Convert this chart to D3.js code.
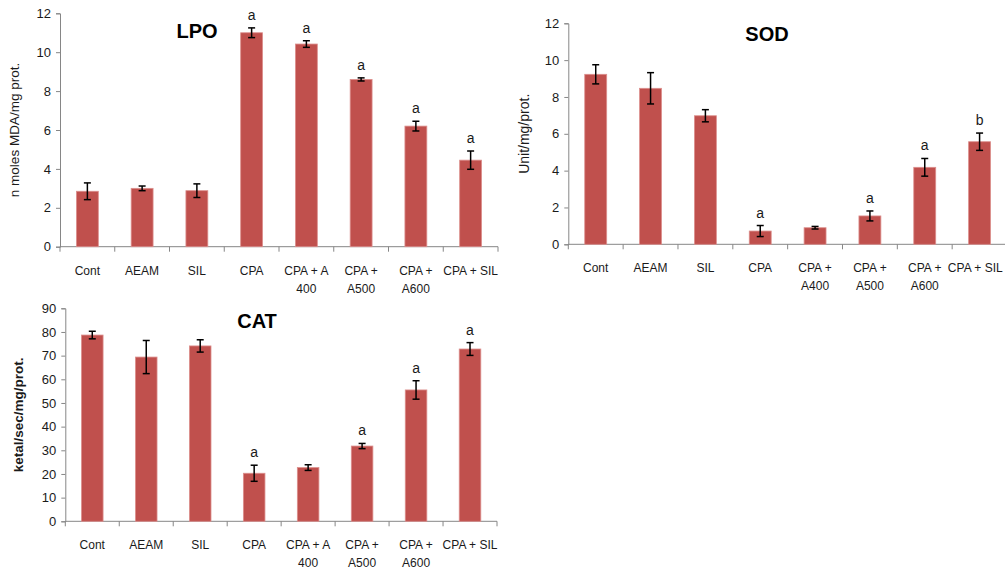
<!DOCTYPE html>
<html>
<head>
<meta charset="utf-8">
<script src="https://cdn.jsdelivr.net/npm/d3@7"></script>
<style>
  body { margin: 0; background: #fff; }
  svg { display: block; font-family: "Liberation Sans", Arial, sans-serif; }
</style>
</head>
<body>
<svg id="chart" width="1005" height="569"></svg>
<script>
// group names (line breaks as in the figure)
const lpoGroups = [['Cont'], ['AEAM'], ['SIL'], ['CPA'], ['CPA + A', '400'], ['CPA +', 'A500'], ['CPA +', 'A600'], ['CPA + SIL']];
const sodGroups = [['Cont'], ['AEAM'], ['SIL'], ['CPA'], ['CPA +', 'A400'], ['CPA +', 'A500'], ['CPA +', 'A600'], ['CPA + SIL']];
const catGroups = [['Cont'], ['AEAM'], ['SIL'], ['CPA'], ['CPA + A', '400'], ['CPA +', 'A500'], ['CPA +', 'A600'], ['CPA + SIL']];

const lpoValues = [2.85, 3.0, 2.88, 11.0, 10.42, 8.6, 6.2, 4.45];
const lpoErrors = [0.43, 0.12, 0.35, 0.25, 0.17, 0.08, 0.25, 0.47];
const lpoMarks = ['', '', '', 'a', 'a', 'a', 'a', 'a'];

const sodValues = [9.23, 8.47, 6.98, 0.72, 0.9, 1.54, 4.18, 5.57];
const sodErrors = [0.52, 0.85, 0.33, 0.3, 0.07, 0.27, 0.48, 0.47];
const sodMarks = ['', '', '', 'a', '', 'a', 'a', 'b'];

const catValues = [78.7, 69.4, 74.1, 20.3, 22.7, 31.8, 55.5, 72.8];
const catErrors = [1.6, 7.0, 2.6, 3.4, 1.2, 1.1, 3.9, 2.7];
const catMarks = ['', '', '', 'a', '', 'a', 'a', 'a'];

const barColor = '#c0504d';
const axisColor = '#868686';
const textColor = '#1a1a1a';
const chartWidth = 1005;

const svg = d3.select('#chart');

function drawPanel(opts) {
  const g = svg.append('g');
  const keys = opts.groups.map((d, i) => i);

  const x = d3.scaleBand()
    .domain(keys)
    .range([opts.left, opts.right])
    .paddingInner(0.6)
    .paddingOuter(0.3);

  const y = d3.scaleLinear()
    .domain([0, opts.max])
    .range([opts.bottom, opts.top]);

  // y axis
  g.append('g')
    .attr('transform', `translate(${opts.left},0)`)
    .call(d3.axisLeft(y).tickValues(d3.range(0, opts.max + 1e-9, opts.step)).tickSize(4).tickPadding(5))
    .call(a => a.select('.domain').attr('stroke', axisColor))
    .call(a => a.selectAll('.tick line').attr('stroke', axisColor))
    .call(a => a.selectAll('.tick text')
      .attr('fill', textColor)
      .style('font-size', '13px')
      .style('font-family', '"Liberation Sans", Arial, sans-serif'));

  // x axis line with ticks at category boundaries
  const step = x.step();
  g.append('line')
    .attr('x1', opts.left).attr('x2', opts.right)
    .attr('y1', y(0)).attr('y2', y(0))
    .attr('stroke', axisColor);
  g.append('g')
    .selectAll('line')
    .data(d3.range(keys.length + 1))
    .join('line')
    .attr('x1', d => opts.left + d * step)
    .attr('x2', d => opts.left + d * step)
    .attr('y1', y(0))
    .attr('y2', y(0) + 5)
    .attr('stroke', axisColor);

  // category labels
  const labels = g.append('g')
    .selectAll('text')
    .data(opts.groups)
    .join('text')
    .attr('x', (d, i) => x(i) + x.bandwidth() / 2)
    .attr('y', y(0) + 28)
    .attr('text-anchor', 'middle')
    .attr('fill', textColor)
    .style('font-size', '12px');
  labels.selectAll('tspan')
    .data(d => d)
    .join('tspan')
    .attr('x', function () { return this.parentNode.getAttribute('x'); })
    .attr('dy', (d, i) => i === 0 ? 0 : 18)
    .text(d => d);
  // keep labels inside the picture
  labels.each(function () {
    const box = this.getBBox();
    const over = box.x + box.width - (chartWidth - 2);
    if (over > 0) {
      const cx = +this.getAttribute('x') - over;
      d3.select(this).attr('x', cx).selectAll('tspan').attr('x', cx);
    }
  });

  // bars
  g.append('g')
    .selectAll('rect')
    .data(opts.values)
    .join('rect')
    .attr('x', (d, i) => x(i))
    .attr('width', x.bandwidth())
    .attr('y', d => y(d))
    .attr('height', d => y(0) - y(d))
    .attr('fill', barColor)
    .attr('stroke', '#dc8f8d')
    .attr('stroke-width', 0.8);

  // error bars
  const err = g.append('g')
    .attr('stroke', '#000')
    .attr('stroke-width', 1.5)
    .selectAll('g')
    .data(opts.values)
    .join('g')
    .attr('transform', (d, i) => `translate(${x(i) + x.bandwidth() / 2},0)`);
  err.append('line')
    .attr('y1', (d, i) => y(d - opts.errors[i]))
    .attr('y2', (d, i) => y(d + opts.errors[i]));
  err.append('line')
    .attr('x1', -3.5).attr('x2', 3.5)
    .attr('y1', (d, i) => y(d - opts.errors[i]))
    .attr('y2', (d, i) => y(d - opts.errors[i]));
  err.append('line')
    .attr('x1', -3.5).attr('x2', 3.5)
    .attr('y1', (d, i) => y(d + opts.errors[i]))
    .attr('y2', (d, i) => y(d + opts.errors[i]));

  // significance letters
  g.append('g')
    .selectAll('text')
    .data(opts.marks)
    .join('text')
    .attr('x', (d, i) => x(i) + x.bandwidth() / 2)
    .attr('y', (d, i) => y(opts.values[i] + opts.errors[i]) - 8)
    .attr('text-anchor', 'middle')
    .attr('fill', textColor)
    .style('font-size', '14px')
    .text(d => d);

  // title
  g.append('text')
    .attr('x', opts.titleX)
    .attr('y', opts.titleY)
    .attr('text-anchor', 'middle')
    .attr('fill', '#000')
    .style('font-size', '20px')
    .style('font-weight', 'bold')
    .text(opts.title);

  // y label
  g.append('text')
    .attr('transform', `translate(${opts.labelX},${(y(0) + y(opts.max)) / 2}) rotate(-90)`)
    .attr('text-anchor', 'middle')
    .attr('fill', textColor)
    .style('font-size', opts.labelSize + 'px')
    .style('font-weight', opts.labelBold ? 'bold' : 'normal')
    .text(opts.label);
}

drawPanel({
  groups: lpoGroups, values: lpoValues, errors: lpoErrors, marks: lpoMarks,
  left: 60, right: 498, top: 13.3, bottom: 246.7, max: 12, step: 2,
  title: 'LPO', titleX: 197, titleY: 38,
  label: 'n moles MDA/mg prot.', labelX: 19, labelSize: 13.5, labelBold: false
});

drawPanel({
  groups: sodGroups, values: sodValues, errors: sodErrors, marks: sodMarks,
  left: 568.3, right: 1007, top: 23.3, bottom: 244.3, max: 12, step: 2,
  title: 'SOD', titleX: 767, titleY: 41,
  label: 'Unit/mg/prot.', labelX: 529, labelSize: 14, labelBold: false
});

drawPanel({
  groups: catGroups, values: catValues, errors: catErrors, marks: catMarks,
  left: 65.3, right: 497, top: 308.3, bottom: 521.3, max: 90, step: 10,
  title: 'CAT', titleX: 257, titleY: 328,
  label: 'ketal/sec/mg/prot.', labelX: 23, labelSize: 13.5, labelBold: true
});
</script>
</body>
</html>
